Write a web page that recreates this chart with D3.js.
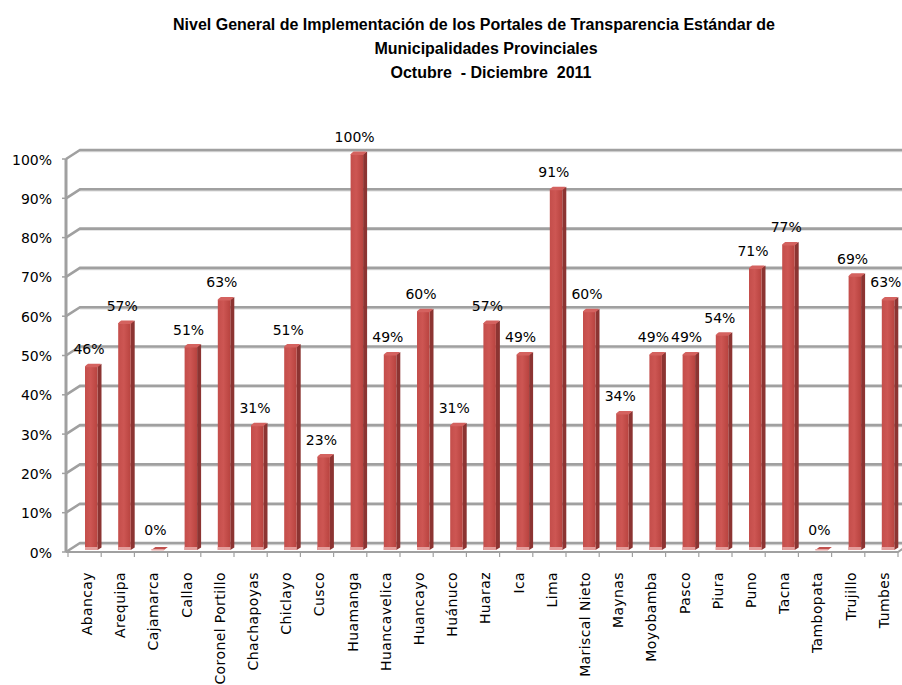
<!DOCTYPE html>
<html lang="es">
<head>
<meta charset="UTF-8">
<title>Portales de Transparencia</title>
<script src="https://d3js.org/d3.v7.min.js"></script>
<style>
  body { margin: 0; background: #fff; }
  text { font-family: "DejaVu Sans", sans-serif; }
</style>
</head>
<body>
<script>
// data
var titleLines = ["Nivel General de Implementación de los Portales de Transparencia Estándar de",
                  "Municipalidades Provinciales",
                  "Octubre  - Diciembre  2011"];
var cities = ["Abancay", "Arequipa", "Cajamarca", "Callao", "Coronel Portillo", "Chachapoyas",
              "Chiclayo", "Cusco", "Huamanga", "Huancavelica", "Huancayo", "Huánuco", "Huaraz",
              "Ica", "Lima", "Mariscal Nieto", "Maynas", "Moyobamba", "Pasco", "Piura", "Puno",
              "Tacna", "Tambopata", "Trujillo", "Tumbes"];
var values = [0.46, 0.57, 0, 0.51, 0.63, 0.31, 0.51, 0.23, 1.00, 0.49, 0.60, 0.31, 0.57,
              0.49, 0.91, 0.60, 0.34, 0.49, 0.49, 0.54, 0.71, 0.77, 0, 0.69, 0.63];
var yTicks = [0, 0.1, 0.2, 0.3, 0.4, 0.5, 0.6, 0.7, 0.8, 0.9, 1.0];

var width = 902, height = 685;
var depthX = 14, depthY = 9;   // offset from back wall to front edge

var svg = d3.select("body").append("svg")
    .attr("width", width).attr("height", height);

var x = d3.scaleBand().domain(cities).range([68, 898]);
var y = d3.scaleLinear().domain([0, 1]).range([543, 150]);   // back wall
var pct = d3.format(".0%");

// gradient for the column faces
var defs = svg.append("defs");
var g1 = defs.append("linearGradient").attr("id", "face");
g1.append("stop").attr("offset", "0%").attr("stop-color", "#c44e4b");
g1.append("stop").attr("offset", "45%").attr("stop-color", "#cd5653");
g1.append("stop").attr("offset", "100%").attr("stop-color", "#b8433f");

// title
svg.selectAll(".title").data(titleLines).enter().append("text")
    .attr("class", "title")
    .attr("x", function (d, i) { return [474, 486, 491][i]; })
    .attr("y", function (d, i) { return 24 + i * 24; })
    .attr("text-anchor", "middle")
    .attr("dominant-baseline", "central")
    .style("font-family", "'Liberation Sans', Arial, sans-serif")
    .style("font-weight", "bold")
    .style("font-size", "16px")
    .style("white-space", "pre")
    .text(function (d) { return d; });

// back wall gridlines + side wall diagonals
var grid = svg.append("g");
yTicks.forEach(function (t) {
    var yy = y(t);
    grid.append("path")
        .attr("d", "M80," + (yy + 1.5) + "L902," + (yy + 1.5))
        .attr("stroke", "#dcdcdc").attr("stroke-width", 1.5).attr("fill", "none");
    grid.append("path")
        .attr("d", "M" + (80 - depthX) + "," + (yy + depthY) + "L80," + yy + "L902," + yy)
        .attr("stroke", "#a0a0a0").attr("stroke-width", 2.6).attr("fill", "none");
    // tick on front axis
    grid.append("line")
        .attr("x1", 62).attr("x2", 66)
        .attr("y1", yy + depthY).attr("y2", yy + depthY)
        .attr("stroke", "#a0a0a0").attr("stroke-width", 1.5);
});

// front-left axis
svg.append("line")
    .attr("x1", 66).attr("x2", 66)
    .attr("y1", y(1) + depthY).attr("y2", y(0) + depthY)
    .attr("stroke", "#a0a0a0").attr("stroke-width", 3);

// floor front edge
svg.append("path")
    .attr("d", "M66," + (y(0) + depthY) + "L898," + (y(0) + depthY) + "L908," + (y(0) + depthY - 7))
    .attr("stroke", "#a0a0a0").attr("stroke-width", 2).attr("fill", "none");

// category ticks
svg.selectAll(".ctick").data(cities.concat(["_end"])).enter().append("line")
    .attr("class", "ctick")
    .attr("x1", function (d, i) { return 68 + i * x.step(); })
    .attr("x2", function (d, i) { return 68 + i * x.step(); })
    .attr("y1", y(0) + depthY).attr("y2", y(0) + depthY + 5)
    .attr("stroke", "#a0a0a0").attr("stroke-width", 1.2);

// y labels
svg.selectAll(".ylab").data(yTicks).enter().append("text")
    .attr("class", "ylab")
    .attr("x", 52)
    .attr("y", function (d) { return y(d) + depthY + 0.5; })
    .attr("text-anchor", "end")
    .attr("dominant-baseline", "central")
    .style("font-size", "14px")
    .text(function (d) { return pct(d); });

// columns
var faceW = 12.5, sideW = 4, skew = 2.5;
var bottom = y(0) + 7;
var bars = svg.selectAll(".bar").data(values).enter().append("g").attr("class", "bar")
    .attr("transform", function (d, i) { return "translate(" + (x(cities[i]) + 17) + ",0)"; });

bars.each(function (v) {
    var g = d3.select(this);
    var top = y(v) + 4;
    if (v === 0) {
        g.append("path")
            .attr("d", "M0," + (bottom) + "L" + faceW + "," + bottom + "L" + (faceW + sideW) + "," + (bottom - 3) +
                  "L" + sideW + "," + (bottom - 3) + "Z")
            .attr("fill", "#c0504d");
        g.append("rect").attr("x", 0).attr("y", bottom - 1).attr("width", faceW).attr("height", 1.5)
            .attr("fill", "#e7a3a1");
        return;
    }
    // side
    g.append("path")
        .attr("d", "M" + faceW + "," + top + "L" + (faceW + sideW) + "," + (top - skew) +
              "L" + (faceW + sideW) + "," + (bottom - skew) + "L" + faceW + "," + bottom + "Z")
        .attr("fill", "#8c3432");
    // face
    g.append("rect")
        .attr("x", 0).attr("y", top).attr("width", faceW).attr("height", bottom - top)
        .attr("fill", "url(#face)");
    // top
    g.append("path")
        .attr("d", "M0," + (top + 1) + "Q0," + (top - 1) + " 3," + (top - skew) +
              "L" + (faceW + sideW - 1) + "," + (top - skew) + "Q" + (faceW + sideW) + "," + (top - skew) +
              " " + faceW + "," + (top + 1) + "Z")
        .attr("fill", "#d4625f");
    // reflection at the base
    g.append("rect")
        .attr("x", 0).attr("y", bottom - 3).attr("width", faceW).attr("height", 3)
        .attr("fill", "#e49e9c");
});

// data labels
svg.selectAll(".vlab").data(values).enter().append("text")
    .attr("class", "vlab")
    .attr("x", function (d, i) { return x(cities[i]) + 17 + 4; })
    .attr("y", function (d) { return y(d) + 4 - 17; })
    .attr("text-anchor", "middle")
    .attr("dominant-baseline", "central")
    .style("font-size", "14px")
    .text(function (d) { return pct(d); });

// category labels
svg.selectAll(".clab").data(cities).enter().append("text")
    .attr("class", "clab")
    .attr("transform", function (d) { return "translate(" + (x(d) + 19) + ",572) rotate(-90)"; })
    .attr("text-anchor", "end")
    .attr("dominant-baseline", "central")
    .style("font-size", "14px")
    .style("letter-spacing", "0.4px")
    .text(function (d) { return d; });
</script>
</body>
</html>
